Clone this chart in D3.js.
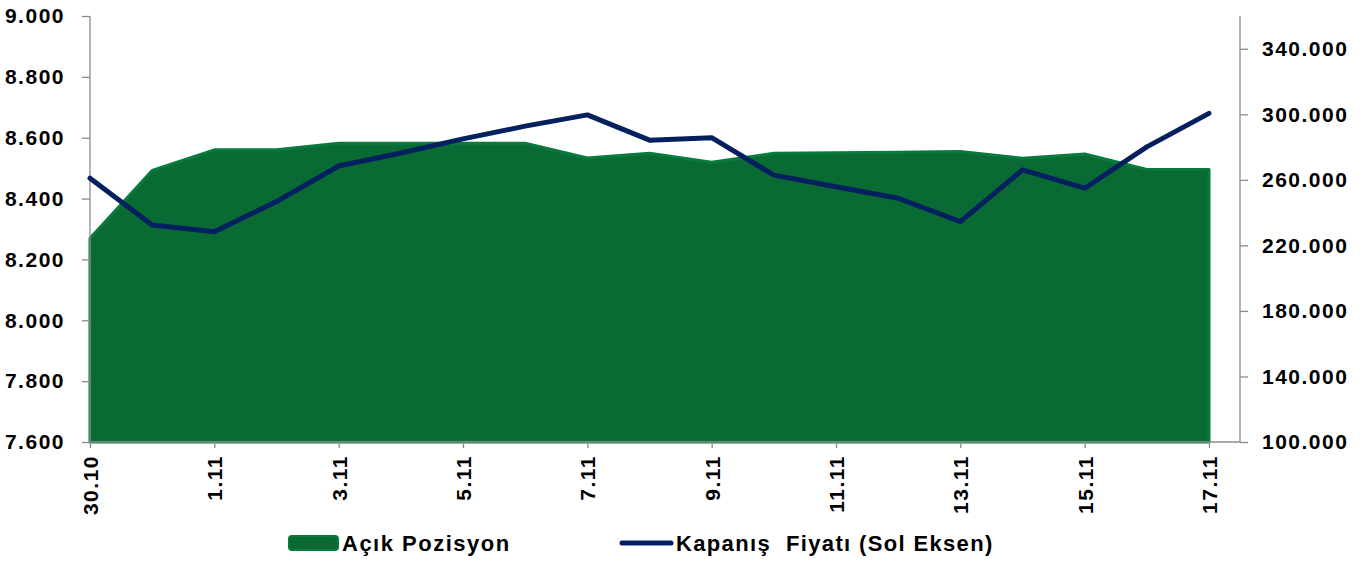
<!DOCTYPE html>
<html>
<head>
<meta charset="utf-8">
<script src="https://cdn.jsdelivr.net/npm/d3@7"></script>
<style>
  html, body { margin: 0; padding: 0; background: #ffffff; }
  svg { display: block; }
  text { font-family: "Liberation Sans", Arial, sans-serif; font-weight: bold; fill: #000; }
</style>
</head>
<body>
<svg id="chart" width="1366" height="561"></svg>
<script>
// ---- data ----
const categories = ["30.10","31.10","1.11","2.11","3.11","4.11","5.11","6.11","7.11","8.11","9.11","10.11","11.11","12.11","13.11","14.11","15.11","16.11","17.11"];
const closePrice = [8467, 8313, 8291, 8390, 8507, 8550, 8596, 8638, 8675, 8592, 8600, 8477, 8439, 8401, 8324, 8494, 8434, 8570, 8680];
const openPosition = [224300, 265700, 278300, 278300, 282300, 282300, 282300, 282300, 273400, 276200, 270700, 276200, 276600, 276800, 277300, 273200, 275800, 266300, 266300];
const leftTicks = [7600, 7800, 8000, 8200, 8400, 8600, 8800, 9000];
const rightTicks = [100000, 140000, 180000, 220000, 260000, 300000, 340000];
const xLabels = ["30.10","1.11","3.11","5.11","7.11","9.11","11.11","13.11","15.11","17.11"];
const seriesNames = ["Açık Pozisyon", "Kapanış  Fiyatı (Sol Eksen)"];

// ---- layout ----
const plotLeft = 90, plotRight = 1240, plotTop = 16, plotBottom = 442;
const lastPointX = 1209;
const axisColor = "#8a8a8a";
const areaFill = "#0A6A33", areaStroke = "#087A3D", lineColor = "#05205E";

const loc = d3.formatLocale({decimal: ",", thousands: ".", grouping: [3], currency: ["", ""]});
const fmt = loc.format(",d");

const svg = d3.select("#chart");

const x = d3.scalePoint().domain(categories).range([plotLeft, lastPointX]);
const yL = d3.scaleLinear().domain([7600, 9000]).range([plotBottom, plotTop]);
const yR = d3.scaleLinear().domain([100000, 360000]).range([plotBottom, plotTop]);

// area (right axis)
const area = d3.area()
  .x((d, i) => x(categories[i]))
  .y0(plotBottom)
  .y1(d => yR(d));
svg.append("path")
  .datum(openPosition)
  .attr("d", area)
  .attr("fill", areaFill)
  .attr("stroke", areaStroke)
  .attr("stroke-width", 3)
  .attr("stroke-linejoin", "round");

// axes
const fontSize = "21px", ls = "1.5px";

const gL = svg.append("g").attr("transform", `translate(${plotLeft},0)`)
  .call(d3.axisLeft(yL).tickValues(leftTicks).tickFormat(fmt).tickSize(8).tickPadding(17));
const gR = svg.append("g").attr("transform", `translate(${plotRight},0)`)
  .call(d3.axisRight(yR).tickValues(rightTicks).tickFormat(fmt).tickSize(8).tickPadding(14));
[gL, gR].forEach(g => {
  g.select(".domain").attr("stroke", axisColor).attr("stroke-width", 1.3)
    .attr("d", `M0,${plotTop}V${plotBottom}`);
  g.selectAll(".tick line").attr("stroke", axisColor).attr("stroke-width", 1.3);
  g.selectAll(".tick text").style("font-size", fontSize).style("letter-spacing", ls)
    .style("font-family", "'Liberation Sans', Arial, sans-serif").style("font-weight", "bold").attr("fill", "#000");
});

const gX = svg.append("g").attr("transform", `translate(0,${plotBottom})`)
  .call(d3.axisBottom(x).tickValues(xLabels).tickSize(6));
gX.select(".domain").attr("stroke", axisColor).attr("stroke-width", 1.3)
  .attr("d", `M${plotLeft},0H${plotRight}`);
gX.selectAll(".tick line").attr("stroke", axisColor).attr("stroke-width", 1.3);
gX.selectAll(".tick text")
  .attr("transform", "rotate(-90)")
  .attr("text-anchor", "end")
  .attr("x", -13).attr("y", 0).attr("dy", "0.36em")
  .style("font-size", fontSize).style("letter-spacing", ls)
  .style("font-family", "'Liberation Sans', Arial, sans-serif").style("font-weight", "bold").attr("fill", "#000");

// line (left axis)
const line = d3.line()
  .x((d, i) => x(categories[i]))
  .y(d => yL(d));
svg.append("path")
  .datum(closePrice)
  .attr("d", line)
  .attr("fill", "none")
  .attr("stroke", lineColor)
  .attr("stroke-width", 5)
  .attr("stroke-linejoin", "round")
  .attr("stroke-linecap", "round");

// legend
const lg = svg.append("g");
lg.append("rect").attr("x", 289).attr("y", 536).attr("width", 49).attr("height", 14).attr("rx", 3)
  .attr("fill", areaFill).attr("stroke", areaStroke).attr("stroke-width", 2);
lg.append("text").attr("x", 342).attr("y", 551).text(seriesNames[0])
  .style("font-size", "22px").style("letter-spacing", "1.5px");
lg.append("line").attr("x1", 622).attr("x2", 671).attr("y1", 543).attr("y2", 543)
  .attr("stroke", lineColor).attr("stroke-width", 5).attr("stroke-linecap", "round");
lg.append("text").attr("x", 676).attr("y", 551).text(seriesNames[1])
  .style("font-size", "22px").style("letter-spacing", "1.35px").style("white-space", "pre");
</script>
</body>
</html>
